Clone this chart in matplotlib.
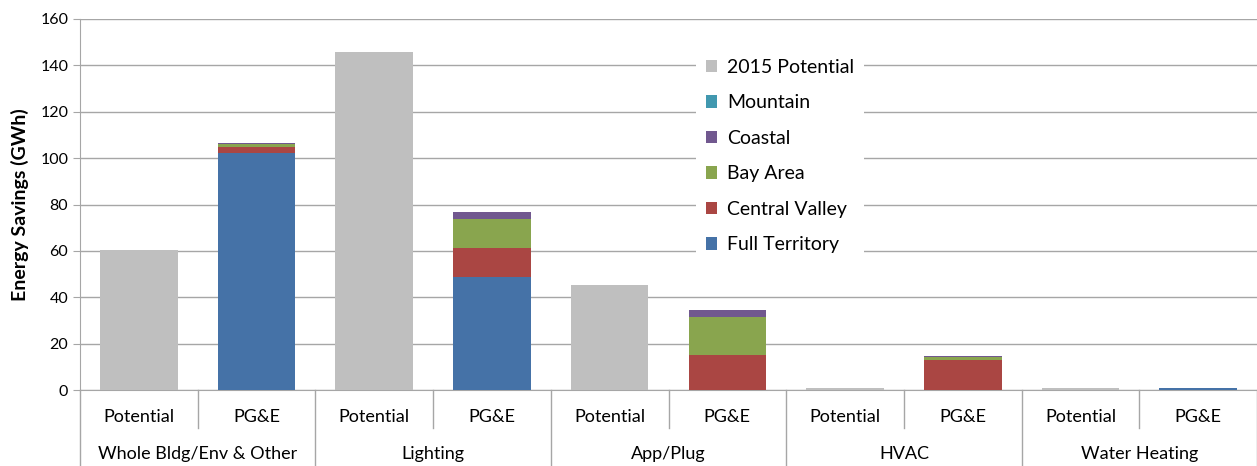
import matplotlib.pyplot as plt
import matplotlib.transforms as mtransforms
import numpy as np

plt.rcParams['font.family'] = ['Lato', 'DejaVu Sans']

# Données (GWh)
categories = ["Whole Bldg/Env & Other", "Lighting", "App/Plug", "HVAC", "Water Heating"]
sub_labels = ["Potential", "PG&E"]
potential_2015 = [60.4, 145.8, 45.3, 0.8, 1.0]
full_territory = [102.2, 48.7, 0.0, 0.0, 0.8]
central_valley = [2.6, 12.6, 15.1, 12.9, 0.0]
bay_area = [1.4, 12.4, 16.4, 1.5, 0.0]
coastal = [0.3, 2.9, 3.0, 0.3, 0.0]
mountain = [0.1, 0.3, 0.0, 0.0, 0.0]

c_pot = '#BFBFBF'
c_full = '#4572A7'
c_cv = '#AA4643'
c_bay = '#89A54E'
c_coast = '#71588F'
c_mount = '#4198AF'
grid_c = '#A6A6A6'

fig = plt.figure(figsize=(12.57, 4.66), dpi=100)
ax = fig.add_axes([80 / 1257, 76 / 466, 1177 / 1257, 371 / 466])

n = len(categories)
x_pot = np.arange(n) * 2
x_pge = x_pot + 1
w = 0.66

ax.bar(x_pot, potential_2015, w, color=c_pot, label='2015 Potential', zorder=3)
bottom = np.zeros(n)
series = [(full_territory, c_full, 'Full Territory'),
          (central_valley, c_cv, 'Central Valley'),
          (bay_area, c_bay, 'Bay Area'),
          (coastal, c_coast, 'Coastal'),
          (mountain, c_mount, 'Mountain')]
for vals, col, lab in series:
    ax.bar(x_pge, vals, w, bottom=bottom, color=col, label=lab, zorder=3)
    bottom += np.array(vals)

ax.set_xlim(-0.5, 2 * n - 0.5)
ax.set_ylim(0, 160)
ax.set_yticks(range(0, 161, 20))
ax.yaxis.grid(True, color=grid_c, lw=1, zorder=0)
ax.set_axisbelow(True)
ax.set_xticks([])
for s in ['top', 'right']:
    ax.spines[s].set_visible(False)
ax.spines['left'].set_color(grid_c)
ax.spines['bottom'].set_color(grid_c)
ax.tick_params(axis='y', colors=grid_c, labelcolor='black', labelsize=11.5, length=5)
ax.set_ylabel('Energy Savings (GWh)', fontsize=14, fontweight='bold', labelpad=8)

# Étiquettes de catégories sur deux niveaux
trans = mtransforms.blended_transform_factory(ax.transData, ax.transAxes)
y1 = -27 / 371
y2 = -64 / 371
for i in range(n):
    ax.text(x_pot[i], y1, sub_labels[0], transform=trans, ha='center', va='center', fontsize=13)
    ax.text(x_pge[i], y1, sub_labels[1], transform=trans, ha='center', va='center', fontsize=13)
    ax.text(x_pot[i] + 0.5, y2, categories[i], transform=trans, ha='center', va='center', fontsize=13)
    # séparateur intérieur
    ax.plot([x_pot[i] + 0.5] * 2, [0, -38 / 371], transform=trans, color=grid_c, lw=1, clip_on=False)
for i in range(n + 1):
    xs = 2 * i - 0.5
    ax.plot([xs, xs], [0, -76 / 371], transform=trans, color=grid_c, lw=1, clip_on=False)

handles, labels = ax.get_legend_handles_labels()
order = [0, 5, 4, 3, 2, 1]
leg = ax.legend([handles[k] for k in order], [labels[k] for k in order],
                loc='upper left', bbox_to_anchor=(0.515, 0.945), fontsize=14,
                frameon=True, facecolor='white', edgecolor='none', framealpha=1,
                fancybox=False, handlelength=0.6, handleheight=0.6,
                handletextpad=0.5, labelspacing=0.95, borderpad=0.5)
leg.set_zorder(5)

plt.savefig('out.png', dpi=100)
plt.close()
